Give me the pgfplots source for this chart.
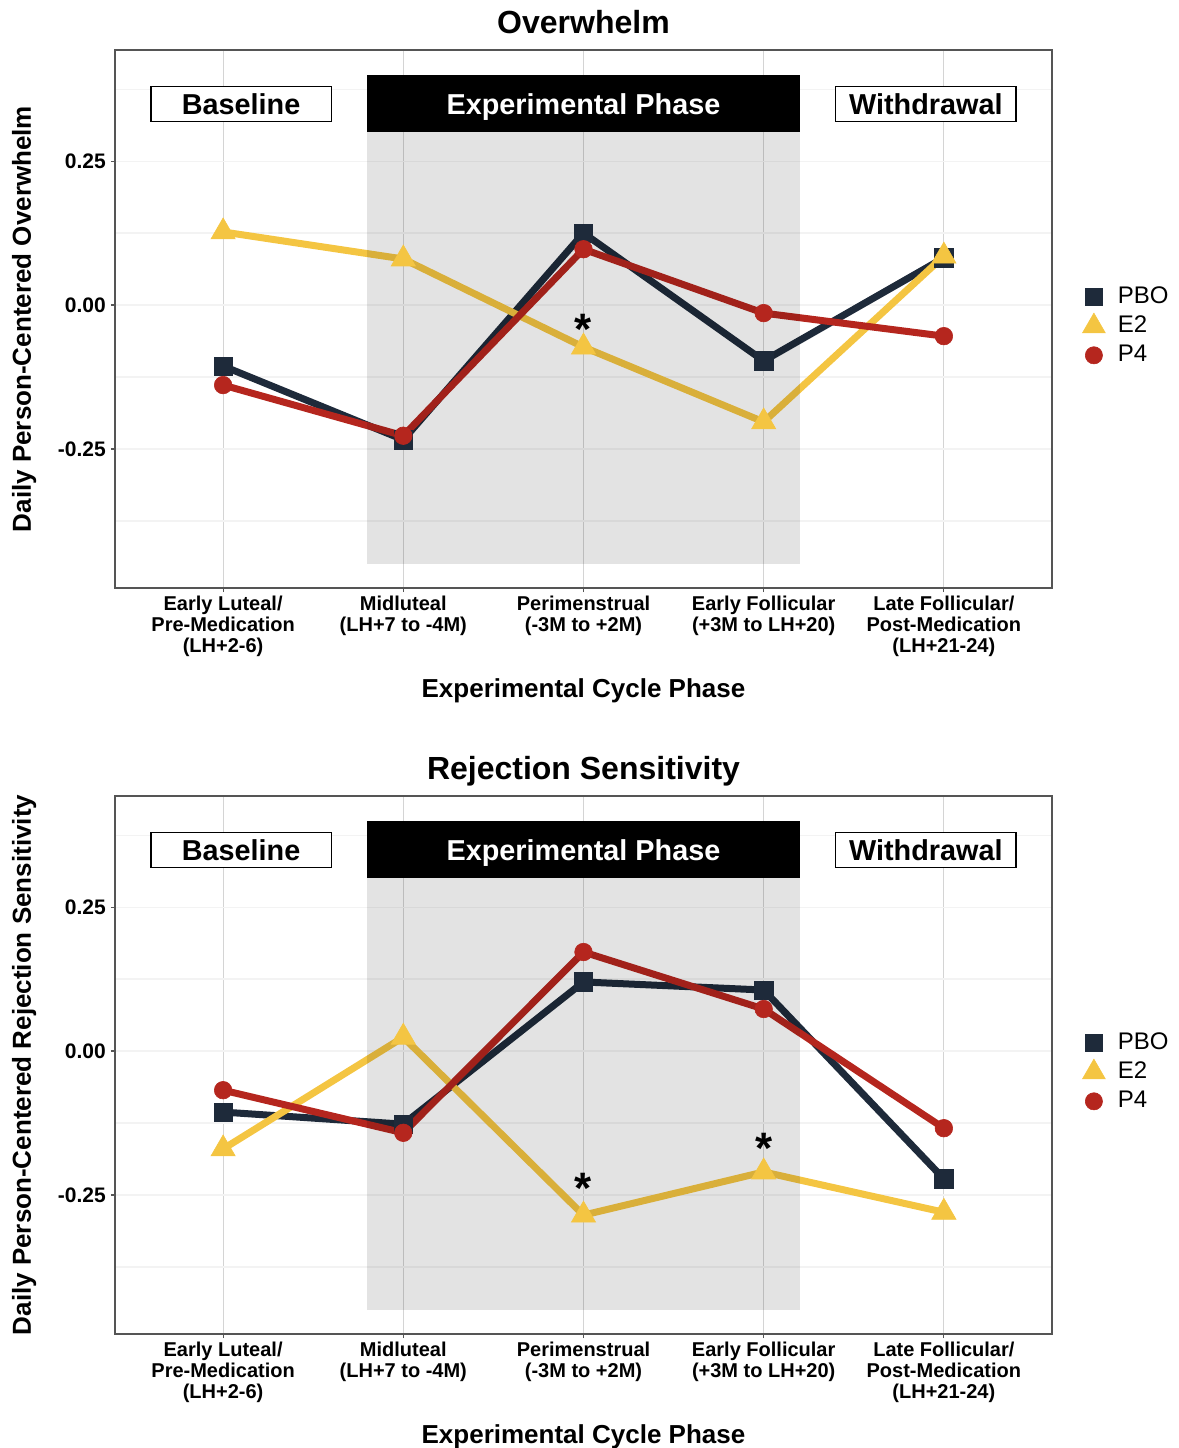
\documentclass[border=0pt]{standalone}
\usepackage{fontspec}
\setmainfont{Liberation Sans}
\usepackage{pgfplots}
\pgfplotsset{compat=1.18}
\definecolor{pbo}{HTML}{1E2A3A}
\definecolor{etwo}{HTML}{F4C542}
\definecolor{pfour}{HTML}{B5261E}
\definecolor{gridy}{HTML}{F3F3F3}
\definecolor{gridminor}{HTML}{E8E8E8}
\definecolor{gridx}{HTML}{D4D4D4}
\definecolor{frame}{HTML}{555555}
\pgfplotsset{
  every axis title shift=0pt,
  panel/.style={
    scale only axis, width=468.5pt, height=269pt,
    xmin=-0.6, xmax=4.6, ymin=-0.4915, ymax=0.443,
    xtick={0,1,2,3,4},
    xticklabels={{Early Luteal/\\Pre-Medication\\(LH+2-6)},{Midluteal\\(LH+7 to -4M)},{Perimenstrual\\(-3M to +2M)},{Early Follicular\\(+3M to LH+20)},{Late Follicular/\\Post-Medication\\(LH+21-24)}},
    xticklabel style={align=center, font=\fontsize{10}{10.5}\selectfont\bfseries, yshift=3pt},
    ytick={-0.25,0,0.25},
    yticklabels={-0.25,0.00,0.25},
    yticklabel style={font=\fontsize{10.5}{12}\selectfont\bfseries, xshift=2.5pt},
    minor ytick={-0.375,-0.125,0.125,0.375},
    minor tick length=0pt,
    xmajorgrids, ymajorgrids, yminorgrids,
    x grid style={color=gridx, line width=0.5pt},
    y grid style={color=gridy, line width=0.6pt},
    minor grid style={color=gridminor, line width=0.6pt},
    axis line style={color=frame, line width=0.7pt},
    tick style={color=frame, line width=0.6pt},
    major tick length=2pt,
    tick align=outside, tick pos=left,
    xlabel={Experimental Cycle Phase},
    xlabel style={font=\fontsize{13}{14}\selectfont\bfseries, at={(axis description cs:0.5,-0.204)}, anchor=base, yshift=0pt},
    ylabel style={font=\fontsize{13}{14}\selectfont\bfseries, at={(axis description cs:-0.097,0.5)}, anchor=center, rotate=0},
    title style={font=\fontsize{16}{18}\selectfont\bfseries, at={(axis description cs:0.5,1.03)}, anchor=base, yshift=0pt},
    clip=false,
    legend style={at={(axis description cs:1.0288,0.4866)}, anchor=west, draw=none, fill=none, inner sep=0pt,
      font=\fontsize{12}{14}\selectfont, row sep=1.5pt, legend cell align=left,
      nodes={inner sep=0.5pt, text height=9pt, text depth=3pt}},
    legend image code/.code={\draw[#1, line width=0.3pt] plot coordinates {(0pt,0pt)}; \path[draw=none, fill=none] (-5pt,-5pt) rectangle (11.5pt,5pt);},
    line width=3.5pt,
  },
  pbos/.style={color=pbo, mark=square*, mark size=4.6pt, mark options={solid, line width=0.3pt}},
  e2s/.style={color=etwo, mark=triangle*, mark size=7pt, mark options={solid, line width=0.3pt}},
  p4s/.style={color=pfour, mark=*, mark size=4.4pt, mark options={solid, line width=0.3pt}},
}
\newcommand{\phaseboxes}{%
  \fill[black, opacity=0.11] (axis cs:0.8,-0.45) rectangle (axis cs:3.2,0.30);
  \fill[black] (axis cs:0.8,0.30) rectangle (axis cs:3.2,0.40);
  \node[white, anchor=base, font=\fontsize{14.4}{16}\selectfont\bfseries] at (axis cs:2,0.331) {Experimental Phase};
  \draw[black, line width=0.7pt, fill=white] (axis cs:-0.4,0.319) rectangle (axis cs:0.6,0.380);
  \node[black, anchor=base, font=\fontsize{14.4}{16}\selectfont\bfseries] at (axis cs:0.1,0.331) {Baseline};
  \draw[black, line width=0.7pt, fill=white] (axis cs:3.4,0.319) rectangle (axis cs:4.4,0.380);
  \node[black, anchor=base, font=\fontsize{14.4}{16}\selectfont\bfseries] at (axis cs:3.9,0.331) {Withdrawal};
}
\newcommand{\legendmarks}{%
  \addlegendimage{only marks, mark=square*, color=pbo, mark size=4.3pt}
  \addlegendentry{PBO}
  \addlegendimage{only marks, mark=triangle*, color=etwo, mark size=6.6pt}
  \addlegendentry{E2}
  \addlegendimage{only marks, mark=*, color=pfour, mark size=4.3pt}
  \addlegendentry{P4}
}
\begin{document}
\begin{tikzpicture}
\useasboundingbox (0,0) rectangle (589.5pt,-724pt);
% ---------------- Panel 1: Overwhelm ----------------
\begin{axis}[panel, at={(57.5pt,-294pt)}, anchor=south west,
  title={Overwhelm}, ylabel={Daily Person-Centered Overwhelm}]
\addplot[pbos, forget plot] coordinates {(0,-0.106) (1,-0.234) (2,0.125) (3,-0.097) (4,0.082)};
\addplot[e2s, forget plot] coordinates {(0,0.127) (1,0.080) (2,-0.073) (3,-0.203) (4,0.085)};
\addplot[p4s, forget plot] coordinates {(0,-0.139) (1,-0.227) (2,0.097) (3,-0.014) (4,-0.054)};
\phaseboxes
\node[anchor=base, font=\fontsize{22}{22}\selectfont\bfseries] at (axis cs:2,-0.0688) {*};
\legendmarks
\end{axis}
% ---------------- Panel 2: Rejection Sensitivity ----------------
\begin{axis}[panel, at={(57.5pt,-667pt)}, anchor=south west,
  title={Rejection Sensitivity}, ylabel={Daily Person-Centered Rejection Sensitivity}]
\addplot[pbos, forget plot] coordinates {(0,-0.106) (1,-0.127) (2,0.120) (3,0.106) (4,-0.222)};
\addplot[e2s, forget plot] coordinates {(0,-0.170) (1,0.024) (2,-0.285) (3,-0.210) (4,-0.280)};
\addplot[p4s, forget plot] coordinates {(0,-0.068) (1,-0.142) (2,0.172) (3,0.073) (4,-0.134)};
\phaseboxes
\node[anchor=base, font=\fontsize{22}{22}\selectfont\bfseries] at (axis cs:2,-0.264) {*};
\node[anchor=base, font=\fontsize{22}{22}\selectfont\bfseries] at (axis cs:3,-0.1955) {*};
\legendmarks
\end{axis}
\end{tikzpicture}
\end{document}
